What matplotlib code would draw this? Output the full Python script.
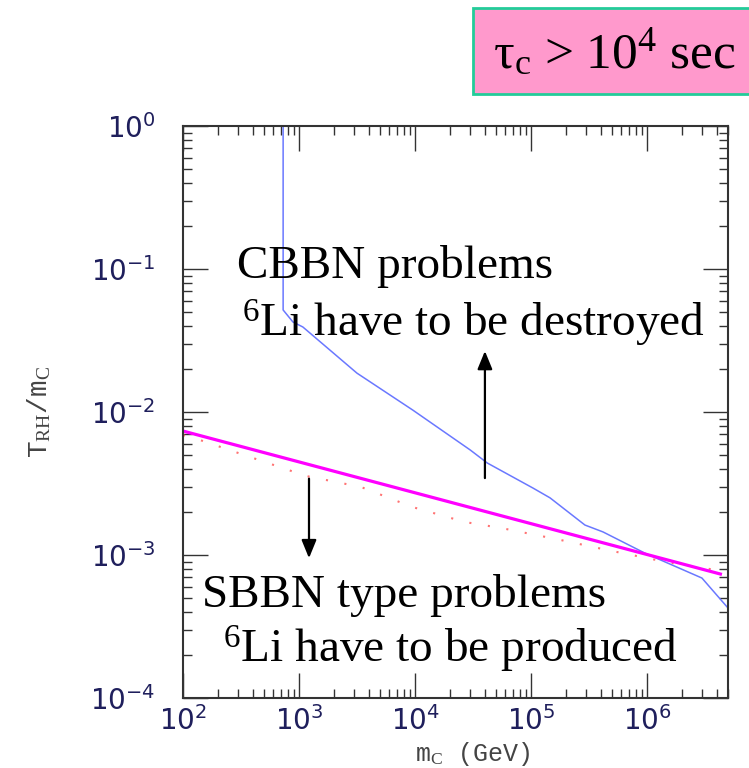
import matplotlib
matplotlib.use("Agg")
import matplotlib.pyplot as plt
from matplotlib.patches import Rectangle
from matplotlib.ticker import LogLocator, NullFormatter

plt.rcParams['mathtext.fontset'] = 'custom'
plt.rcParams['mathtext.rm'] = 'Liberation Serif'
plt.rcParams['mathtext.it'] = 'Liberation Serif:italic'

# blue curve (CBBN bound)
m_blue = [730, 730, 887, 1080, 3160, 9600, 30000, 42000, 104000, 146000,
          292000, 418000, 962000, 2.98e6, 5e6]
t_blue = [1.0, 0.0517, 0.0426, 0.0393, 0.0187, 0.0103, 0.00542, 0.0044,
          0.00294, 0.00251, 0.00162, 0.00145, 0.00103, 6.9e-4, 4.26e-4]

# magenta line
m_mag = [100, 4.3e6]
t_mag = [7.36e-3, 7.36e-4]

# red dotted line
m_red = [100, 140, 401, 1150, 3420, 9420, 27000, 56300, 167000, 490000,
         1.46e6, 4.44e6]
t_red = [6.9e-3, 6.37e-3, 4.77e-3, 3.57e-3, 2.99e-3, 2.17e-3, 1.70e-3,
         1.54e-3, 1.29e-3, 1.07e-3, 8.94e-4, 7.73e-4]

# arrows (x, y_start, y_end)
arrow_up = (40100, 0.00345, 0.0267)
arrow_down = (1220, 0.00342, 9.5e-4)

navy = '#1f1f5c'

fig = plt.figure(figsize=(7.49, 7.68), dpi=100)
ax = fig.add_axes([183/749, 1-698/768, 545/749, 572/768])

ax.plot(m_red, t_red, color='#ff5050', lw=1.5, dashes=(1, 8), alpha=0.8)
ax.plot(m_blue, t_blue, color='#6a78ff', lw=1.1)
ax.plot(m_mag, t_mag, color='#ff00ff', lw=2.3)

for x, y0, y1 in [arrow_up, arrow_down]:
    ax.annotate('', xy=(x, y1), xytext=(x, y0),
                arrowprops=dict(arrowstyle='-|>,head_length=1.1,head_width=0.45',
                                color='black', lw=1.6, shrinkA=0, shrinkB=0))

ax.set_xscale('log')
ax.set_yscale('log')
ax.set_xlim(100, 5e6)
ax.set_ylim(1e-4, 1)

ax.xaxis.set_major_locator(LogLocator(base=10, numticks=10))
ax.xaxis.set_minor_locator(LogLocator(base=10, subs=range(2, 10), numticks=20))
ax.yaxis.set_minor_locator(LogLocator(base=10, subs=range(2, 10), numticks=20))
ax.xaxis.set_minor_formatter(NullFormatter())
ax.yaxis.set_minor_formatter(NullFormatter())

ax.tick_params(which='both', direction='in', top=True, right=True,
               color='#333333', width=1.0)
ax.tick_params(which='major', length=18, labelsize=20, labelcolor=navy)
ax.tick_params(which='minor', length=6.5)
ax.tick_params(axis='y', pad=20)
ax.tick_params(axis='x', pad=6)
for lab in ax.get_xticklabels() + ax.get_yticklabels():
    lab.set_fontfamily('DejaVu Sans')
for s in ax.spines.values():
    s.set_linewidth(1.5)
    s.set_color('#333333')

# axis labels
fig.text(473/749, 1-754/768, r'm$_{\rm C}$ (GeV)', family='Liberation Mono',
         fontsize=18, color='#444444', ha='center', va='center')
fig.text(39/749, 1-412/768, r'T$_{\rm RH}$/m$_{\rm C}$', family='Liberation Mono',
         fontsize=20, color='#444444', ha='center', va='center', rotation=90)

# annotations
tfont = dict(family='Liberation Serif', fontsize=34, color='black', va='baseline')
fig.text(237/749, 1-278/768, 'CBBN problems', **tfont)
fig.text(242/749, 1-337/768, r'$^{6}$Li have to be destroyed', **tfont)
fig.text(202/749, 1-607/768, 'SBBN type problems', **tfont)
fig.text(223/749, 1-663/768, r'$^{6}$Li have to be produced', **tfont)

# lifetime box
fig.patches.append(Rectangle((473/749, 1-94/768), 290/749, 86/768,
                             transform=fig.transFigure, facecolor='#ff99cc',
                             edgecolor='#22cc99', lw=2, clip_on=False))
fig.text(614/749, 1-54/768, r'τ$_{\rm c}$ > 10$^{4}$ sec', family='Liberation Serif',
         fontsize=37, color='black', ha='center', va='center')

fig.savefig('out.png', dpi=100)
